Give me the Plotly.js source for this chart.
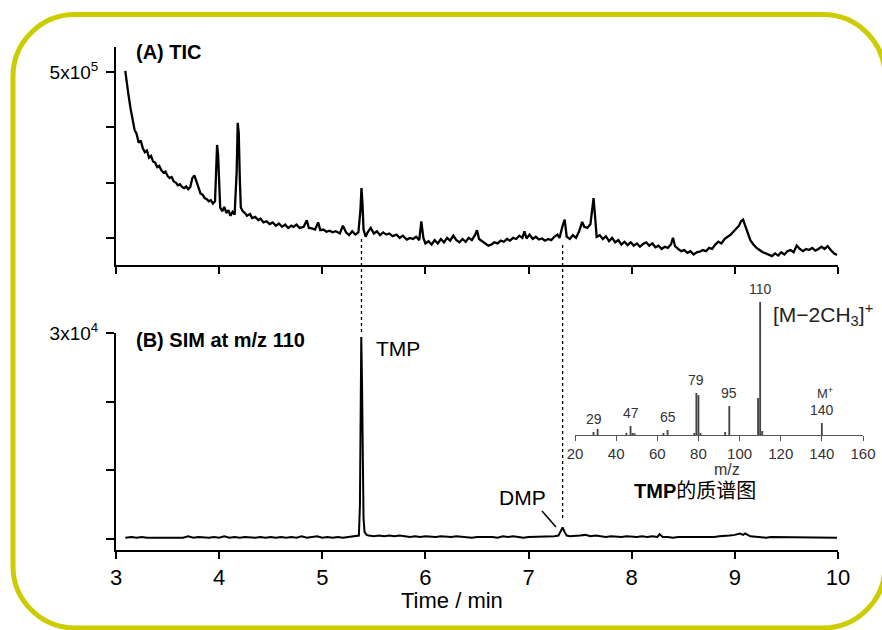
<!DOCTYPE html>
<html>
<head>
<meta charset="utf-8">
<script src="https://cdn.plot.ly/plotly-3.0.1.min.js"></script>
<style>html,body{margin:0;padding:0;background:#fff;}#chart{width:882px;height:630px;}</style>
</head>
<body>
<div id="chart"></div>
<script>
// ---------- DATA ----------
// (A) TIC, intensity in units of 1e5
const ticTime = [3.09,3.10,3.12,3.14,3.16,3.18,3.20,3.22,3.24,3.26,3.28,3.30,3.32,3.34,3.36,3.38,3.40,3.42,3.44,3.46,3.48,3.50,3.52,3.54,3.56,3.58,3.60,3.62,3.64,3.66,3.68,3.70,3.72,3.74,3.76,3.78,3.80,3.82,3.84,3.86,3.88,3.90,3.92,3.94,3.96,3.97,3.98,3.99,4.00,4.01,4.03,4.05,4.07,4.09,4.11,4.13,4.15,4.17,4.18,4.19,4.20,4.21,4.23,4.25,4.27,4.30,4.32,4.35,4.38,4.40,4.43,4.46,4.49,4.52,4.55,4.58,4.61,4.64,4.67,4.70,4.72,4.75,4.78,4.82,4.85,4.87,4.90,4.93,4.96,4.98,5.01,5.04,5.07,5.10,5.13,5.17,5.20,5.23,5.26,5.29,5.32,5.35,5.37,5.38,5.39,5.40,5.42,5.44,5.47,5.50,5.53,5.56,5.59,5.62,5.65,5.68,5.72,5.75,5.78,5.82,5.85,5.88,5.91,5.94,5.96,5.98,6.00,6.03,6.06,6.09,6.12,6.15,6.18,6.21,6.24,6.27,6.30,6.33,6.36,6.39,6.42,6.45,6.48,6.50,6.52,6.55,6.58,6.61,6.64,6.67,6.70,6.73,6.76,6.79,6.82,6.85,6.88,6.91,6.94,6.96,6.98,7.01,7.04,7.07,7.10,7.13,7.16,7.19,7.22,7.25,7.28,7.30,7.33,7.35,7.37,7.40,7.43,7.46,7.49,7.52,7.54,7.57,7.60,7.62,7.63,7.64,7.66,7.69,7.72,7.75,7.78,7.81,7.84,7.87,7.90,7.93,7.96,7.99,8.02,8.05,8.08,8.11,8.14,8.17,8.20,8.23,8.26,8.29,8.32,8.35,8.38,8.40,8.42,8.45,8.48,8.51,8.54,8.57,8.60,8.63,8.66,8.69,8.72,8.75,8.78,8.81,8.84,8.87,8.90,8.93,8.96,8.99,9.02,9.04,9.06,9.08,9.10,9.12,9.15,9.18,9.21,9.24,9.27,9.30,9.33,9.36,9.39,9.42,9.45,9.48,9.51,9.54,9.57,9.60,9.63,9.66,9.69,9.72,9.75,9.78,9.81,9.84,9.87,9.90,9.93,9.96,9.99];
const ticIntensity = [5.02,4.85,4.60,4.35,4.15,3.95,3.88,3.72,3.76,3.62,3.55,3.58,3.45,3.48,3.38,3.36,3.28,3.30,3.22,3.18,3.20,3.12,3.08,3.10,3.02,3.00,2.95,2.97,2.92,2.90,2.93,2.88,2.92,3.08,3.13,3.02,2.88,2.80,2.78,2.72,2.70,2.66,2.68,2.62,2.66,3.10,3.68,3.50,2.90,2.55,2.48,2.56,2.45,2.50,2.40,2.47,2.42,3.20,4.08,3.90,3.10,2.55,2.48,2.45,2.40,2.43,2.36,2.38,2.32,2.35,2.28,2.30,2.25,2.28,2.22,2.26,2.20,2.24,2.18,2.22,2.20,2.24,2.18,2.20,2.32,2.18,2.17,2.15,2.28,2.14,2.15,2.11,2.13,2.10,2.12,2.08,2.22,2.10,2.05,2.12,2.06,2.10,2.50,2.90,2.60,2.15,2.02,2.10,2.18,2.08,2.12,2.05,2.10,2.06,2.08,2.03,2.06,2.00,2.04,1.97,2.00,1.98,2.02,1.96,2.30,2.00,1.90,1.94,1.88,1.96,1.90,1.98,1.92,2.00,1.95,2.04,1.96,1.92,1.98,1.93,2.00,1.96,2.05,2.14,1.98,1.94,1.90,1.86,1.88,1.92,1.90,1.95,1.93,1.98,1.95,2.00,1.98,2.04,2.00,2.12,1.99,2.06,1.98,2.02,1.97,1.99,1.95,1.98,1.96,2.02,2.06,2.00,2.22,2.33,2.02,1.98,2.05,2.00,2.12,2.29,2.20,2.18,2.25,2.60,2.72,2.50,2.02,2.05,1.98,2.03,1.94,2.00,1.92,1.96,1.88,1.93,1.87,1.92,1.86,1.90,1.84,1.89,1.92,1.86,1.90,1.83,1.86,1.80,1.84,1.82,1.88,2.00,1.85,1.80,1.76,1.78,1.73,1.76,1.70,1.74,1.75,1.78,1.76,1.82,1.80,1.88,1.93,1.90,1.98,2.02,2.06,2.12,2.18,2.22,2.30,2.33,2.22,2.10,1.96,1.88,1.82,1.78,1.74,1.72,1.70,1.67,1.72,1.68,1.74,1.70,1.76,1.78,1.74,1.86,1.80,1.76,1.80,1.78,1.82,1.77,1.80,1.84,1.80,1.85,1.78,1.72,1.69];

// (B) SIM at m/z 110, intensity in units of 1e4
const simTime = [3.09,3.15,3.20,3.25,3.30,3.35,3.40,3.45,3.50,3.55,3.60,3.65,3.70,3.75,3.80,3.85,3.90,3.95,4.00,4.05,4.10,4.15,4.20,4.25,4.30,4.35,4.40,4.45,4.50,4.55,4.60,4.65,4.70,4.75,4.80,4.85,4.90,4.95,5.00,5.05,5.10,5.15,5.20,5.25,5.30,5.34,5.355,5.365,5.372,5.378,5.385,5.392,5.40,5.41,5.43,5.45,5.50,5.55,5.60,5.65,5.70,5.75,5.80,5.85,5.90,5.95,6.00,6.05,6.10,6.15,6.20,6.25,6.30,6.35,6.40,6.45,6.50,6.55,6.60,6.65,6.70,6.75,6.80,6.85,6.90,6.95,7.00,7.05,7.10,7.15,7.20,7.25,7.29,7.31,7.33,7.35,7.37,7.40,7.45,7.50,7.55,7.60,7.65,7.70,7.75,7.80,7.85,7.90,7.95,8.00,8.05,8.10,8.15,8.20,8.25,8.27,8.30,8.35,8.40,8.45,8.50,8.55,8.60,8.65,8.70,8.75,8.80,8.85,8.90,8.95,9.00,9.05,9.08,9.10,9.15,9.20,9.25,9.30,9.35,9.40,9.45,9.50,9.55,9.60,9.65,9.70,9.75,9.80,9.85,9.90,9.95,9.99];
const simIntensity = [0.02,0.03,0.02,0.03,0.02,0.02,0.03,0.02,0.03,0.02,0.03,0.02,0.04,0.02,0.03,0.02,0.02,0.03,0.02,0.04,0.02,0.03,0.02,0.03,0.02,0.02,0.03,0.02,0.03,0.02,0.03,0.02,0.03,0.02,0.04,0.02,0.03,0.04,0.02,0.03,0.02,0.03,0.02,0.03,0.03,0.04,0.05,0.50,1.60,2.94,2.30,1.00,0.30,0.10,0.06,0.05,0.04,0.05,0.04,0.05,0.04,0.05,0.04,0.03,0.04,0.03,0.04,0.03,0.03,0.04,0.03,0.03,0.04,0.03,0.03,0.02,0.03,0.03,0.04,0.03,0.02,0.04,0.03,0.04,0.03,0.02,0.03,0.03,0.04,0.03,0.03,0.04,0.05,0.10,0.17,0.10,0.05,0.04,0.04,0.05,0.06,0.04,0.05,0.04,0.03,0.04,0.03,0.03,0.04,0.03,0.03,0.04,0.03,0.04,0.03,0.07,0.03,0.03,0.02,0.03,0.03,0.02,0.03,0.03,0.02,0.03,0.03,0.04,0.04,0.05,0.06,0.08,0.06,0.08,0.04,0.03,0.03,0.02,0.03,0.03,0.02,0.03,0.03,0.02,0.03,0.02,0.03,0.02,0.03,0.02,0.03,0.02];

// Inset: mass spectrum of TMP (relative abundance %)
const msMz = [29,31,45,47,48,49,63,65,78,79,80,81,93,95,109,110,111,140];
const msAbund = [2.3,4.5,1.5,6.8,1.5,1.2,1.5,3.8,1.5,31.6,30,1.5,2.3,21.8,27.8,100,3,9];
const msLabeledMz = [29,47,65,79,95,110,140];
const msLabeledAbund = [2.3,6.8,3.8,31.6,21.8,100,9];

const timeTicks = [3,4,5,6,7,8,9,10];
const ticLabelTick = [5];
const ticLabelText = ['5x10<sup>5</sup>'];
const ticMinorTicks = [2,3,4];
const simLabelTick = [3];
const simLabelText = ['3x10<sup>4</sup>'];
const simMinorTicks = [0,1,2];
const mzTicks = [20,40,60,80,100,120,140,160];

// ---------- LAYOUT HELPERS ----------
const W = 882, H = 630;
const fx = p => p / W;
const fy = p => 1 - p / H;
const FONT = 'Liberation Sans, Arial, sans-serif';
const CJK = 'Liberation Sans, Noto Sans CJK SC, sans-serif';

function pathPx(cmds) {
  return cmds.map(c => {
    const L = c[0]; const nums = c.slice(1);
    const out = [];
    for (let i = 0; i < nums.length; i += 2) out.push(fx(nums[i]).toFixed(5) + ',' + fy(nums[i+1]).toFixed(5));
    return L + out.join(' ');
  }).join(' ');
}
const bl = 13, bt = 14.5, br = 885, bb = 628, r = 62, k = 0.552 * r;
const borderPath = pathPx([
  ['M', bl, bt + r],
  ['C', bl, bt + r - k, bl + r - k, bt, bl + r, bt],
  ['L', br - r, bt],
  ['C', br - r + k, bt, br, bt + r - k, br, bt + r],
  ['L', br, bb - r],
  ['C', br, bb - r + k, br - r + k, bb, br - r, bb],
  ['L', bl + r, bb],
  ['C', bl + r - k, bb, bl, bb - r + k, bl, bb - r]
]) + ' Z';

const traces = [
  { x: ticTime, y: ticIntensity, xaxis: 'x', yaxis: 'y', type: 'scatter', mode: 'lines',
    line: { color: '#000', width: 2.3 }, hoverinfo: 'skip' },
  { x: simTime, y: simIntensity, xaxis: 'x2', yaxis: 'y2', type: 'scatter', mode: 'lines',
    line: { color: '#000', width: 2 }, hoverinfo: 'skip' },
  { x: msMz, y: msAbund, xaxis: 'x3', yaxis: 'y3', type: 'bar', width: 0.9,
    marker: { color: '#444', line: { width: 0 } }, hoverinfo: 'skip' }
];

const axBase = {
  showgrid: false, zeroline: false, showline: true, linecolor: '#000', linewidth: 2,
  ticks: 'outside', tickcolor: '#000', tickwidth: 2, fixedrange: true
};
const minorTicks = (vals, len) => ({ tickmode: 'array', tickvals: vals, ticks: 'outside', ticklen: len, tickwidth: 2, tickcolor: '#000', showgrid: false });

const layout = {
  width: W, height: H, margin: { l: 0, r: 0, t: 0, b: 0 },
  paper_bgcolor: '#fff', plot_bgcolor: 'rgba(0,0,0,0)', showlegend: false,
  font: { family: FONT, color: '#000' },
  xaxis: Object.assign({}, axBase, { domain: [fx(116), fx(838)], range: [3, 10], anchor: 'y',
    tickmode: 'array', tickvals: [], showticklabels: false, ticklen: 7, minor: minorTicks(timeTicks, 7) }),
  yaxis: Object.assign({}, axBase, { domain: [fy(265), fy(47)], range: [1.51, 5.45], anchor: 'x',
    tickvals: ticLabelTick, ticktext: ticLabelText, ticklen: 8, ticklabelstandoff: 4,
    tickfont: { size: 19, family: FONT }, minor: minorTicks(ticMinorTicks, 8) }),
  xaxis2: Object.assign({}, axBase, { domain: [fx(116), fx(838)], range: [3, 10], anchor: 'y2',
    tickvals: timeTicks, ticklen: 7, tickfont: { size: 22, family: FONT }, ticklabelstandoff: 0 }),
  yaxis2: Object.assign({}, axBase, { domain: [fy(550), fy(333)], range: [-0.16, 3.0], anchor: 'x2',
    tickvals: simLabelTick, ticktext: simLabelText, ticklen: 8, ticklabelstandoff: 4,
    tickfont: { size: 19, family: FONT }, minor: minorTicks(simMinorTicks, 8) }),
  xaxis3: Object.assign({}, axBase, { domain: [fx(575), fx(863)], range: [20, 160], anchor: 'y3',
    tickvals: mzTicks, linewidth: 1, linecolor: '#555', tickcolor: '#555', tickwidth: 1, ticklen: 5,
    tickfont: { size: 15, family: FONT, color: '#333' }, ticklabelstandoff: 0 }),
  yaxis3: { domain: [fy(435), fy(302)], range: [0, 100], anchor: 'x3', visible: false, fixedrange: true },
  shapes: [
    { type: 'path', xref: 'paper', yref: 'paper', path: borderPath,
      line: { color: '#cccc00', width: 5 }, fillcolor: 'rgba(0,0,0,0)' },
    { type: 'line', xref: 'x', yref: 'paper', x0: 5.38, x1: 5.38, y0: fy(239), y1: fy(333),
      line: { color: '#000', width: 1.3, dash: 'dot' } },
    { type: 'line', xref: 'x', yref: 'paper', x0: 7.33, x1: 7.33, y0: fy(245), y1: fy(520),
      line: { color: '#000', width: 1.3, dash: 'dot' } },
    { type: 'line', xref: 'paper', yref: 'paper', x0: fx(542), y0: fy(511), x1: fx(556), y1: fy(527),
      line: { color: '#000', width: 1.5 } }
  ],
  annotations: [
    { text: '<b>(A) TIC</b>', xref: 'paper', yref: 'paper', x: fx(134), y: fy(52), xanchor: 'left', yanchor: 'middle',
      showarrow: false, font: { size: 20, family: FONT } },
    { text: '<b>(B) SIM at m/z 110</b>', xref: 'paper', yref: 'paper', x: fx(134), y: fy(340), xanchor: 'left', yanchor: 'middle',
      showarrow: false, font: { size: 20, family: FONT } },
    { text: 'TMP', xref: 'paper', yref: 'paper', x: fx(374), y: fy(348), xanchor: 'left', yanchor: 'middle',
      showarrow: false, font: { size: 21, family: FONT } },
    { text: 'DMP', xref: 'paper', yref: 'paper', x: fx(522), y: fy(497), xanchor: 'center', yanchor: 'middle',
      showarrow: false, font: { size: 21, family: FONT } },
    { text: 'Time / min', xref: 'paper', yref: 'paper', x: fx(452), y: fy(600), xanchor: 'center', yanchor: 'middle',
      showarrow: false, font: { size: 22, family: FONT } },
    { text: 'm/z', xref: 'paper', yref: 'paper', x: fx(727), y: fy(469), xanchor: 'center', yanchor: 'middle',
      showarrow: false, font: { size: 16, family: FONT, color: '#333' } },
    { text: '[M\u22122CH<sub>3</sub>]<sup>+</sup>', xref: 'paper', yref: 'paper', x: fx(771), y: fy(314), xanchor: 'left', yanchor: 'middle',
      showarrow: false, font: { size: 21, family: FONT, color: '#222' } },
    { text: '<b>TMP</b>的质谱图', xref: 'paper', yref: 'paper', x: fx(695), y: fy(491), xanchor: 'center', yanchor: 'middle',
      showarrow: false, font: { size: 20, family: CJK } },
    { text: 'M<sup>+</sup>', xref: 'x3', yref: 'y3', x: 140, y: 9, xanchor: 'center', yanchor: 'bottom', yshift: 20, xshift: 3,
      showarrow: false, font: { size: 13, family: FONT, color: '#333' } }
  ].concat(msLabeledMz.map((m, i) => ({
    text: String(m), xref: 'x3', yref: 'y3', x: m, y: msLabeledAbund[i], xanchor: 'center', yanchor: 'bottom', yshift: 3,
    showarrow: false, font: { size: 14, family: FONT, color: '#333' }
  })))
};

Plotly.newPlot('chart', traces, layout, { staticPlot: true, displayModeBar: false });
</script>
</body>
</html>
